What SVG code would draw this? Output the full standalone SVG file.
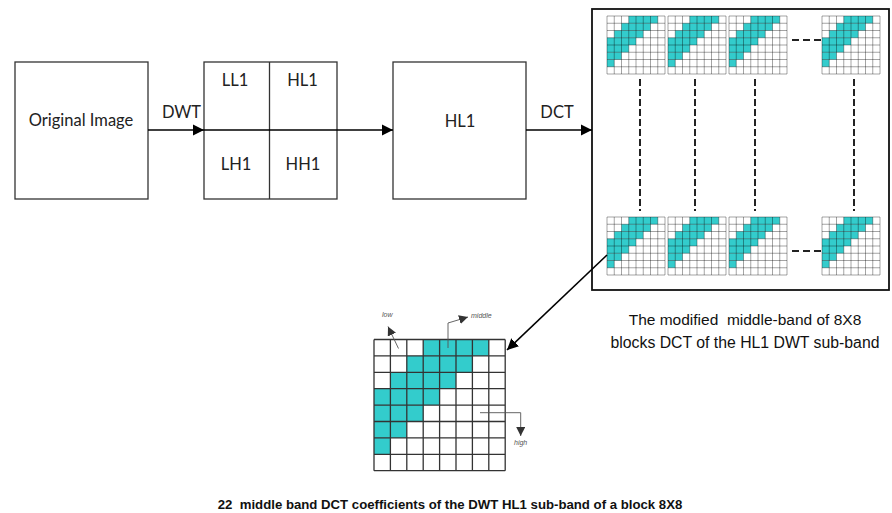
<svg xmlns="http://www.w3.org/2000/svg" width="892" height="513" viewBox="0 0 892 513">
<style>
.box{fill:#fff;stroke:#333;stroke-width:1.3}
.lbl{font-family:Lato,"Open Sans",sans-serif;font-size:16.5px;fill:#222;text-anchor:middle}
.con{stroke:#000;stroke-width:1.6;fill:none}
.dash{stroke:#222;stroke-width:2;fill:none;stroke-dasharray:7 3}
.hdash{stroke:#222;stroke-width:2;fill:none;stroke-dasharray:7 4}
.teal{fill:#33CCCC}
.sgrid{stroke:#000;stroke-opacity:0.45;stroke-width:0.8;fill:none}
.bgrid{stroke:#333;stroke-width:1.3;fill:none}
.ann{stroke:#555;stroke-width:0.9;fill:none}
.annt{font-family:"Liberation Sans",Arial,sans-serif;font-size:7px;font-style:italic;fill:#555}
.cap{font-family:"Liberation Sans",Arial,sans-serif;fill:#111}
</style>
<defs>
<marker id="ah" viewBox="0 0 10 10" refX="10" refY="5" markerWidth="7" markerHeight="7" markerUnits="strokeWidth" orient="auto">
<path d="M0,0 L10,5 L0,10 z" fill="#000"/>
</marker>
<marker id="sah" viewBox="0 0 10 10" refX="10" refY="5" markerWidth="10" markerHeight="10" markerUnits="strokeWidth" orient="auto">
<path d="M0,0 L10,5 L0,10 z" fill="#333"/>
</marker>
<g id="blk">
<rect width="58" height="58" fill="#fff"/>
<rect class="teal" x="21.75" y="0" width="29" height="7.25"/>
<rect class="teal" x="14.5" y="7.25" width="29" height="7.25"/>
<rect class="teal" x="7.25" y="14.5" width="29" height="7.25"/>
<rect class="teal" x="0" y="21.75" width="29" height="7.25"/>
<rect class="teal" x="0" y="29" width="21.75" height="7.25"/>
<rect class="teal" x="0" y="36.25" width="14.5" height="7.25"/>
<rect class="teal" x="0" y="43.5" width="7.25" height="7.25"/>
<path class="sgrid" d="M0,0H58M0,7.25H58M0,14.5H58M0,21.75H58M0,29H58M0,36.25H58M0,43.5H58M0,50.75H58M0,58H58M0,0V58M7.25,0V58M14.5,0V58M21.75,0V58M29,0V58M36.25,0V58M43.5,0V58M50.75,0V58M58,0V58"/>
</g>
</defs>
<rect width="892" height="513" fill="#fff"/>

<g id="original-image">
<rect class="box" x="15" y="62" width="133" height="137"/>
<text class="lbl" x="81" y="126">Original Image</text>
</g>

<g id="dwt-subbands">
<rect class="box" x="204" y="62" width="133" height="137"/>
<line x1="269.5" y1="62" x2="269.5" y2="199" stroke="#333" stroke-width="1.3"/>
<text class="lbl" x="235" y="86">LL1</text>
<text class="lbl" x="302.5" y="86">HL1</text>
<text class="lbl" x="236" y="170">LH1</text>
<text class="lbl" x="303" y="170">HH1</text>
</g>

<g id="hl1">
<rect class="box" x="393" y="62" width="133" height="137"/>
<text class="lbl" x="460" y="127">HL1</text>
</g>

<g id="dct-blocks">
<rect x="592" y="9" width="297" height="281" fill="#fff" stroke="#111" stroke-width="1.8"/>
<use href="#blk" x="607" y="16"/>
<use href="#blk" x="668" y="16"/>
<use href="#blk" x="729" y="16"/>
<use href="#blk" x="822" y="16"/>
<use href="#blk" x="607" y="217"/>
<use href="#blk" x="668" y="217"/>
<use href="#blk" x="729" y="217"/>
<use href="#blk" x="822" y="217"/>
<path class="dash" d="M640,79V211M695,79V211M755,79V211M854,79V211"/>
<path class="hdash" d="M792,40H822M792,251H822"/>
<text class="cap" x="745" y="325" font-size="15.5" text-anchor="middle" xml:space="preserve">The modified  middle-band of 8X8</text>
<text class="cap" x="745" y="348" font-size="15.8" text-anchor="middle">blocks DCT of the HL1 DWT sub-band</text>
</g>

<g id="block-8x8">
<rect x="374" y="339.5" width="131.2" height="131.2" fill="#fff"/>
<rect class="teal" x="423.2" y="339.5" width="65.6" height="16.4"/>
<rect class="teal" x="406.8" y="355.9" width="65.6" height="16.4"/>
<rect class="teal" x="390.4" y="372.3" width="65.6" height="16.4"/>
<rect class="teal" x="374" y="388.7" width="65.6" height="16.4"/>
<rect class="teal" x="374" y="405.1" width="49.2" height="16.4"/>
<rect class="teal" x="374" y="421.5" width="32.8" height="16.4"/>
<rect class="teal" x="374" y="437.9" width="16.4" height="16.4"/>
<path class="bgrid" d="M374,339.5H505.2M374,355.9H505.2M374,372.3H505.2M374,388.7H505.2M374,405.1H505.2M374,421.5H505.2M374,437.9H505.2M374,454.3H505.2M374,470.7H505.2M374,339.5V470.7M390.4,339.5V470.7M406.8,339.5V470.7M423.2,339.5V470.7M439.6,339.5V470.7M456,339.5V470.7M472.4,339.5V470.7M488.8,339.5V470.7M505.2,339.5V470.7"/>
<path class="ann" d="M398.5,348.5L388,326.5" marker-end="url(#sah)"/>
<text class="annt" x="382" y="317">low</text>
<path class="ann" d="M448,348V323L468,317" marker-end="url(#sah)"/>
<text class="annt" x="471" y="318">middle</text>
<path class="ann" d="M480,412.7H520.7V436" marker-end="url(#sah)"/>
<text class="annt" x="514" y="445">high</text>
</g>

<g id="connectors">
<path class="con" d="M148,130H204" marker-end="url(#ah)"/>
<path class="con" d="M204,130H393" marker-end="url(#ah)"/>
<path class="con" d="M526,130H592" marker-end="url(#ah)"/>
<path class="con" d="M607,255L507,350" marker-end="url(#ah)"/>
<text class="lbl" x="181.5" y="118">DWT</text>
<text class="lbl" x="557" y="118">DCT</text>
</g>

<text class="cap" x="450" y="509" font-size="13.2" font-weight="bold" text-anchor="middle" xml:space="preserve">22  middle band DCT coefficients of the DWT HL1 sub-band of a block 8X8</text>
</svg>
